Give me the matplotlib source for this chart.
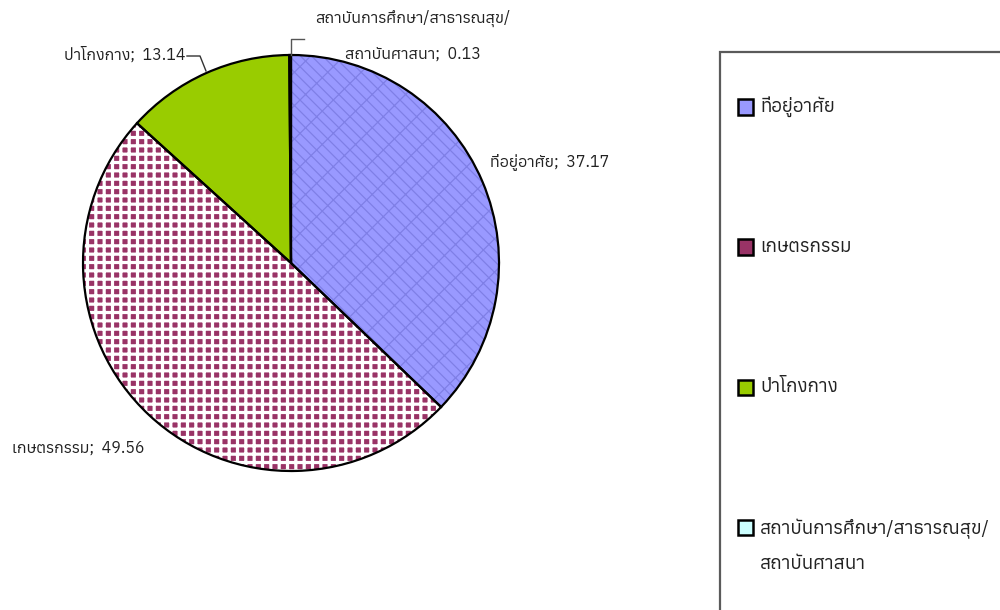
import matplotlib
matplotlib.use('Agg')
import matplotlib.pyplot as plt
from matplotlib import font_manager as fm
from matplotlib.ft2font import FT2Font
from matplotlib.patches import Rectangle

## data
categories = ['ที่อยู่อาศัย', 'เกษตรกรรม', 'ป่าโกงกาง',
              'สถาบันการศึกษา/สาธารณสุข/\nสถาบันศาสนา']
values = [37.17, 49.56, 13.14, 0.13]

face_colors  = ['#9999ff', '#993366', '#99cc00', '#ccffff']
hatch_colors = ['#7f7fe6', '#ffffff', '#99cc00', '#ccffff']
hatches      = ['\\\\\\/', '++', '', '']

## pick a font that has Thai glyphs
thai_fonts = []
for f in fm.fontManager.ttflist:
    try:
        if 0x0E01 in FT2Font(f.fname).get_charmap():
            thai_fonts.append(f.name)
    except Exception:
        pass
thai = 'Anuphan' if 'Anuphan' in thai_fonts else sorted(thai_fonts)[0]
plt.rcParams['font.family'] = [thai, 'DejaVu Sans']

W, H = 1000, 610
fig = plt.figure(figsize=(W / 100, H / 100), dpi=100)

# pie centre and radius in pixels
cx, cy, r = 291, 263, 208
ax = fig.add_axes([(cx - r) / W, (H - cy - r) / H, 2 * r / W, 2 * r / H])

# fill + hatch first, then black outlines on top
wedges, _ = ax.pie(values, startangle=90, counterclock=False, radius=1,
                   colors=face_colors, wedgeprops=dict(linewidth=0))
for w, hc, h in zip(wedges, hatch_colors, hatches):
    w.set_edgecolor(hc)
    w.set_hatch(h)
    if hasattr(w, 'set_hatch_linewidth'):
        w.set_hatch_linewidth(2.3 if h == '++' else 0.9)
ax.pie(values, startangle=90, counterclock=False, radius=1,
       wedgeprops=dict(fill=False, edgecolor='black', linewidth=1.6))
ax.set_xlim(-1, 1)
ax.set_ylim(-1, 1)
ax.axis('off')


def d(px, py):
    # pixel -> pie data coords
    return (px - cx) / r, (cy - py) / r


TXT = '#222222'
FS = 11.5
lbl = ['{};  {:.2f}'.format(c, v) for c, v in zip(categories, values)]

ax.text(*d(490, 163), lbl[0], ha='left', va='center', fontsize=FS, color=TXT)
ax.text(*d(12, 448), lbl[1], ha='left', va='center', fontsize=FS, color=TXT)
ax.text(*d(186, 55), lbl[2], ha='right', va='center', fontsize=FS, color=TXT)
ax.text(*d(413, 36), lbl[3], ha='center', va='center', fontsize=FS,
        color=TXT, linespacing=2.5)

# leader lines
ax.plot(*zip(d(187, 56), d(200, 56), d(206, 71)), color='#333333', lw=1,
        clip_on=False)
ax.plot(*zip(d(304, 39), d(291, 39), d(291, 55)), color='#555555', lw=1,
        clip_on=False)

## legend box drawn by hand
fig.patches.append(Rectangle((720 / W, (H - 640) / H), 320 / W, 588 / H,
                             transform=fig.transFigure, fill=False,
                             edgecolor='#5a5a5a', lw=1.6))
for i, (c, fc, hc, h) in enumerate(zip(categories, face_colors,
                                       hatch_colors, hatches)):
    y = 107 + 140 * i
    sq = Rectangle((738 / W, (H - y - 7.5) / H), 15 / W, 15 / H,
                   transform=fig.transFigure, facecolor=fc, edgecolor='black',
                   lw=1.8)
    fig.patches.append(sq)
    if '\n' in c:
        fig.text(760 / W, (H - y + 8) / H, c, ha='left', va='top',
                 fontsize=13.5, color=TXT, linespacing=2.1)
    else:
        fig.text(760 / W, (H - y) / H, c, ha='left', va='center',
                 fontsize=13.5, color=TXT)

fig.savefig('out.png', dpi=100)
